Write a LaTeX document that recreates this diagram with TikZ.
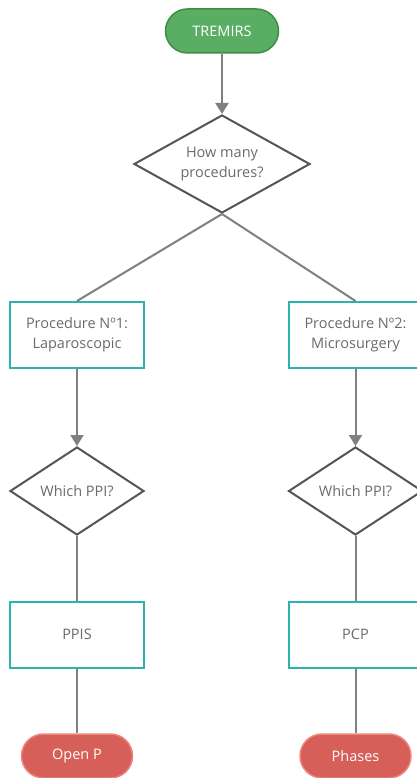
\documentclass[tikz,border=0pt]{standalone}
\usepackage{fontspec}
\setmainfont{Open Sans}
\usetikzlibrary{shapes.geometric,arrows.meta}
\definecolor{txtgray}{HTML}{6B6B6B}
\definecolor{teal}{HTML}{2DB3AD}
\definecolor{dgray}{HTML}{555555}
\definecolor{cgray}{HTML}{808080}
\definecolor{gfill}{HTML}{5AAE63}
\definecolor{gdraw}{HTML}{3E8E47}
\definecolor{rfill}{HTML}{D65F59}
\definecolor{rdraw}{HTML}{EE8580}
\tikzset{
  base/.style={font=\fontsize{14.5}{20}\selectfont, text=txtgray, align=center, inner sep=0pt},
  startpill/.style={base, fill=gfill, draw=gdraw, line width=1.5pt, text=white, rounded corners=22pt, minimum width=113pt, minimum height=44pt},
  endpill/.style={base, fill=rfill, draw=rdraw, line width=1.5pt, text=white, rounded corners=22pt, minimum width=111pt, minimum height=44pt},
  decision/.style={base, diamond, draw=dgray, line width=2pt, fill=white},
  procbox/.style={base, rectangle, draw=teal, line width=2pt, fill=white, minimum width=134pt, minimum height=66pt},
  conn/.style={draw=cgray, line width=2pt},
  arrowconn/.style={conn, -{Triangle[width=13pt,length=11pt]}},
}
\begin{document}
\begin{tikzpicture}[x=1pt,y=-1pt]
\useasboundingbox (0,0) rectangle (417,778);
\node[startpill] (start) at (222,31) {TREMIRS};
\node[decision, aspect=1.8, minimum width=176pt, minimum height=98pt] (d1) at (222,164) {How many\\procedures?};
\node[procbox] (p1) at (77,335) {Procedure Nº1:\\Laparoscopic};
\node[procbox] (p2) at (355.5,335) {Procedure Nº2:\\Microsurgery};
\node[decision, aspect=1.52, minimum width=134pt, minimum height=88pt] (d2) at (77,491) {Which PPI?};
\node[decision, aspect=1.52, minimum width=134pt, minimum height=88pt] (d3) at (355.5,491) {Which PPI?};
\node[procbox] (b1) at (77,634.5) {PPIS};
\node[procbox] (b2) at (355.5,634.5) {PCP};
\node[endpill] (e1) at (77,756) {Open P};
\node[endpill] (e2) at (355.5,756) {Phases};
\draw[arrowconn] (start) -- (d1);
\draw[conn] (d1.south) -- (p1.north);
\draw[conn] (d1.south) -- (p2.north);
\draw[arrowconn] (p1) -- (d2);
\draw[arrowconn] (p2) -- (d3);
\draw[conn] (d2) -- (b1);
\draw[conn] (d3) -- (b2);
\draw[conn] (b1) -- (e1);
\draw[conn] (b2) -- (e2);
\end{tikzpicture}
\end{document}
